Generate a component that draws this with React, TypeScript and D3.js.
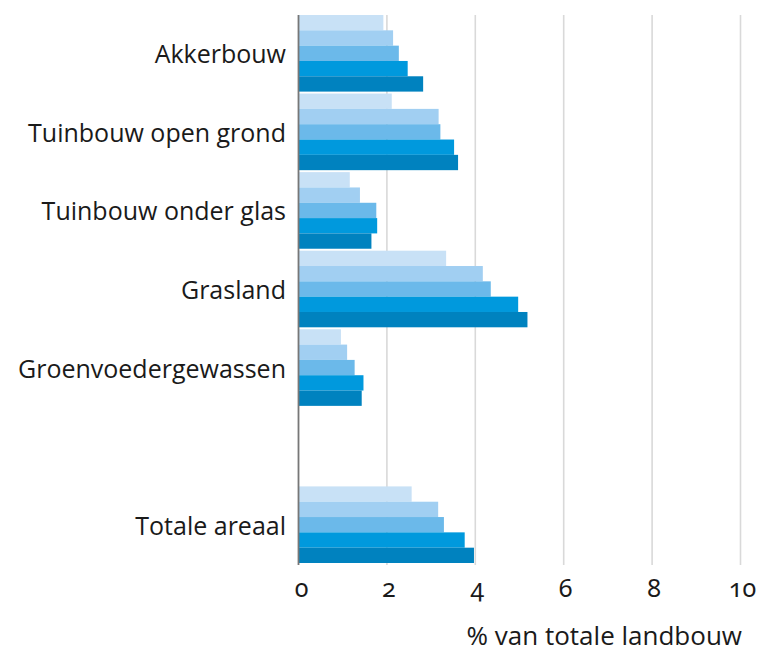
import React from "react";
import * as d3 from "d3";

const categories = [
  "Akkerbouw",
  "Tuinbouw open grond",
  "Tuinbouw onder glas",
  "Grasland",
  "Groenvoedergewassen",
  "",
  "Totale areaal",
];

const seriesNames = ["reeks1", "reeks2", "reeks3", "reeks4", "reeks5"];

const series1 = [1.92, 2.11, 1.16, 3.34, 0.96, null, 2.56];
const series2 = [2.14, 3.17, 1.39, 4.17, 1.1, null, 3.16];
const series3 = [2.27, 3.21, 1.76, 4.35, 1.27, null, 3.29];
const series4 = [2.47, 3.52, 1.78, 4.97, 1.47, null, 3.76];
const series5 = [2.82, 3.61, 1.65, 5.18, 1.43, null, 3.97];

const seriesValues = [series1, series2, series3, series4, series5];
const seriesColors = ["#c8e1f6", "#a1cff2", "#6bb9ea", "#0099dd", "#0082bf"];

const xTicks = [0, 2, 4, 6, 8, 10];
const xTitle = "% van totale landbouw";

const W = 758;
const H = 654;
const left = 298.5;
const right = 740.5;
const top = 15;
const bottom = 563;

export default function App() {
  const x = d3.scaleLinear().domain([0, 10]).range([left, right]);
  const y = d3
    .scaleBand<string>()
    .domain(categories.map((c, i) => String(i)))
    .range([top, bottom])
    .paddingInner(0.025)
    .paddingOuter(0);
  const inner = d3
    .scaleBand<string>()
    .domain(seriesNames)
    .range([0, y.bandwidth()])
    .padding(0);

  const font = "'Open Sans', sans-serif";

  return (
    <svg
      width={W}
      height={H}
      style={{ position: "absolute", left: 0, top: 0, background: "#fff" }}
      fontFamily={font}
    >
      {xTicks.slice(1).map((t) => (
        <line
          key={"g" + t}
          x1={x(t)}
          x2={x(t)}
          y1={top}
          y2={bottom + 2}
          stroke="#d9d9d9"
          strokeWidth={1.6}
        />
      ))}
      {categories.map((c, ci) =>
        seriesValues.map((vals, si) => {
          const v = vals[ci];
          if (v == null) return null;
          const y0 = (y(String(ci)) as number) + (inner(seriesNames[si]) as number);
          return (
            <rect
              key={ci + "-" + si}
              x={x(0)}
              y={y0}
              width={x(v) - x(0)}
              height={inner.bandwidth()}
              fill={seriesColors[si]}
            />
          );
        })
      )}
      <line x1={x(0)} x2={x(0)} y1={top} y2={bottom + 2} stroke="#777" strokeWidth={1.8} />
      {categories.map((c, ci) =>
        c ? (
          <text
            key={"l" + ci}
            x={286}
            y={(y(String(ci)) as number) + y.bandwidth() / 2}
            textAnchor="end"
            dominantBaseline="central"
            fontSize={25}
            fill="#1a1a1a"
          >
            {c}
          </text>
        ) : null
      )}
      {xTicks.map((t) => (
        <text
          key={"t" + t}
          x={x(t) + (t === 0 ? 3 : 2)}
          y={597}
          textAnchor="middle"
          fontSize={25}
          fill="#1a1a1a"
          fontFamily="'Noto Sans', sans-serif"
          style={{ fontVariantNumeric: "oldstyle-nums", fontFeatureSettings: "'onum' 1" }}
        >
          {t}
        </text>
      ))}
      <text x={742} y={645} textAnchor="end" fontSize={26} fill="#1a1a1a">
        {xTitle}
      </text>
    </svg>
  );
}
